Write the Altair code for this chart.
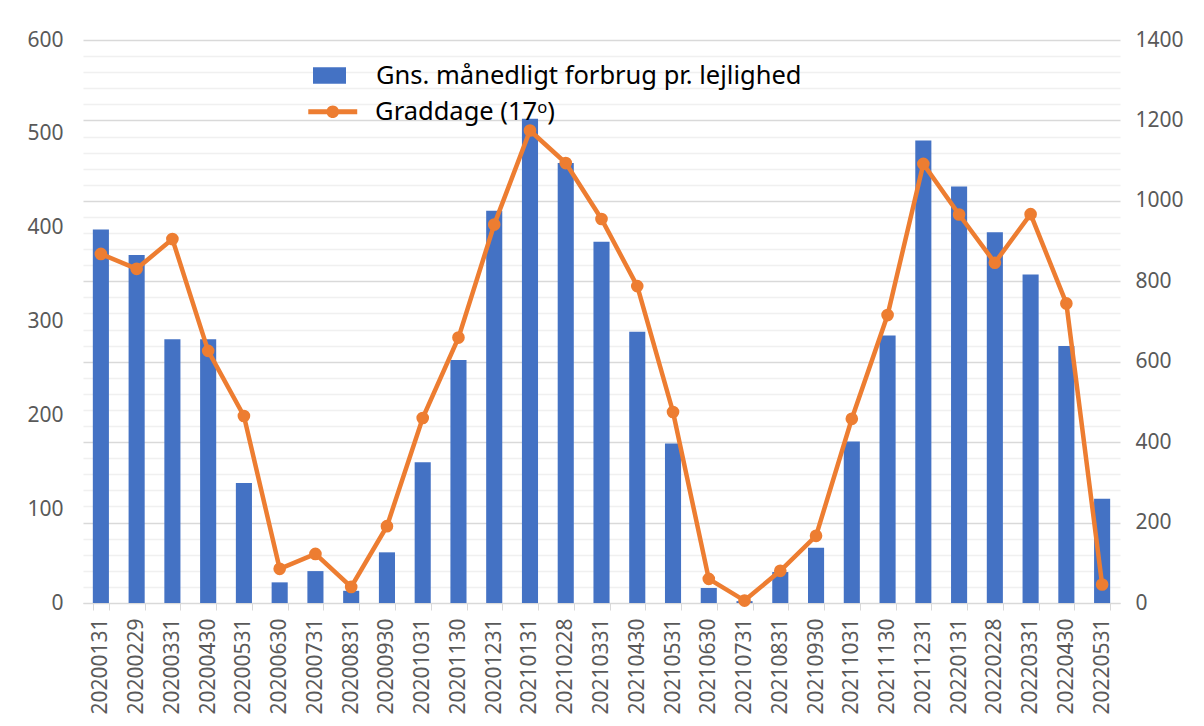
import altair as alt
import pandas as pd

dates = [
    "20200131", "20200229", "20200331", "20200430", "20200531", "20200630",
    "20200731", "20200831", "20200930", "20201031", "20201130", "20201231",
    "20210131", "20210228", "20210331", "20210430", "20210531", "20210630",
    "20210731", "20210831", "20210930", "20211031", "20211130", "20211231",
    "20220131", "20220228", "20220331", "20220430", "20220531",
]
forbrug = [398, 371, 281, 281, 128, 22, 34, 13, 54, 150, 259, 418,
           516, 469, 385, 289, 170, 16, 2, 33, 59, 172, 285, 493,
           444, 395, 350, 274, 111]
graddage = [868, 831, 905, 627, 465, 85, 122, 40, 191, 460, 660, 941,
            1175, 1094, 955, 788, 475, 60, 6, 80, 167, 458, 716, 1092,
            966, 846, 967, 745, 46]
left_ticks = [0, 100, 200, 300, 400, 500, 600]
right_ticks = list(range(0, 1401, 40))

bar_label = "Gns. månedligt forbrug pr. lejlighed"
line_label = "Graddage (17ᵒ)"

BLUE = "#4472C4"
ORANGE = "#ED7D31"
FONT = "Noto Sans"
LABEL = "#595959"

df = pd.DataFrame({
    "dato": dates,
    "forbrug": forbrug,
    "graddage": graddage,
    "s_bar": bar_label,
    "s_line": line_label,
})

x_enc = alt.X(
    "dato:N", sort=None, title=None,
    scale=alt.Scale(paddingInner=0.55, paddingOuter=0.275),
    axis=alt.Axis(labelAngle=-90, tickBand="extent", ticks=True, tickSize=7,
                  tickColor="#d9d9d9", domainColor="#d9d9d9", labelPadding=8,
                  labelFontSize=21, labelColor=LABEL, grid=False),
)

y_right_scale = alt.Scale(domain=[0, 1400], nice=False)
right_axis = alt.Axis(
    orient="right", values=right_ticks, format="d",
    labelExpr="datum.value % 200 === 0 ? datum.label : ''",
    grid=True,
    gridColor={"condition": {"test": "datum.value % 200 === 0", "value": "#d9d9d9"},
               "value": "#f0f0f0"},
    gridWidth=1.3,
    ticks=False, domain=False, labelPadding=15,
    labelFontSize=21, labelColor=LABEL, title=None, minExtent=60,
)

bars = alt.Chart(df).mark_bar(color=BLUE).encode(
    x=x_enc,
    y=alt.Y("forbrug:Q", scale=alt.Scale(domain=[0, 600], nice=False),
            axis=alt.Axis(orient="left", values=left_ticks, format="d", grid=False,
                          ticks=False, domain=False, labelPadding=20, labelFontSize=21,
                          labelColor=LABEL, title=None, minExtent=70, maxExtent=70)),
    color=alt.Color("s_bar:N", scale=alt.Scale(domain=[bar_label], range=[BLUE]),
                    legend=alt.Legend(title=None, orient="none", legendX=230, legendY=19,
                                      symbolType="M-1,-0.5H1V0.5H-1Z", symbolSize=1089,
                                      symbolStrokeWidth=0, labelOffset=30,
                                      labelFontSize=25.5, labelColor="black",
                                      labelLimit=700, padding=0)),
)

line = alt.Chart(df).mark_line(color=ORANGE, strokeWidth=4.5).encode(
    x=x_enc,
    y=alt.Y("graddage:Q", scale=y_right_scale, axis=right_axis),
)

points = alt.Chart(df).mark_point(filled=True, size=160, opacity=1).encode(
    x=x_enc,
    y=alt.Y("graddage:Q", scale=y_right_scale, axis=right_axis),
    color=alt.Color("s_line:N", scale=alt.Scale(domain=[line_label], range=[ORANGE]),
                    legend=alt.Legend(title=None, orient="none", legendX=237, legendY=59,
                                      symbolType="M-2.4,-0.24H2.4V0.24H-2.4Z M0.62,0A0.62,0.62 0 1,1 -0.62,0A0.62,0.62 0 1,1 0.62,0Z",
                                      symbolSize=416, symbolStrokeWidth=0,
                                      labelOffset=29.6, labelFontSize=25.5,
                                      labelColor="black", labelLimit=700, padding=0)),
)

chart = alt.layer(bars, alt.layer(line, points)).resolve_scale(
    y="independent", color="independent"
).properties(
    width=1037, height=563,
    padding={"left": 5, "top": 21, "right": 5, "bottom": 0},
).configure_view(stroke=None).configure_axis(
    labelFont=FONT
).configure_legend(labelFont=FONT)

chart.save("out.html", embed_options={"renderer": "svg", "actions": False})
